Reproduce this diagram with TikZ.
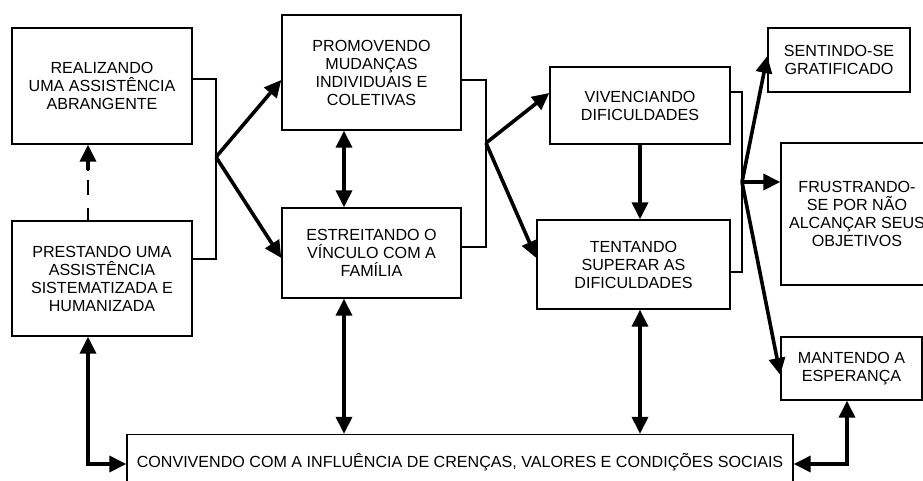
\documentclass[tikz,border=0pt]{standalone}
\usepackage{fontspec}
\setmainfont{Liberation Sans}
\usetikzlibrary{arrows.meta}
\begin{document}
\begin{tikzpicture}[x=1pt,y=-1pt,
  box/.style={draw, line width=1.4pt, inner sep=0pt, align=center,
    font=\fontsize{16.1}{18}\selectfont},
  thin line/.style={line width=1.2pt},
  arr/.style={line width=3.6pt, -{Triangle[length=17pt,width=16pt]}},
  darr/.style={line width=3.6pt, {Triangle[length=17pt,width=16pt]}-{Triangle[length=17pt,width=16pt]}},
  dashline/.style={line width=1.4pt, dash pattern=on 12pt off 13pt on 15pt off 10pt}]
\clip (0,0) rectangle (923,480);
\fill[white] (0,0) rectangle (923,480);

% boxes
\node[box, minimum width=180pt, minimum height=116pt] (R1) at (102,86) {REALIZANDO\\UMA ASSISTÊNCIA\\ABRANGENTE};
\node[box, minimum width=180pt, minimum height=115pt] (R2) at (102,278.5) {PRESTANDO UMA\\ASSISTÊNCIA\\SISTEMATIZADA E\\HUMANIZADA};
\node[box, minimum width=179pt, minimum height=115pt] (P) at (371.5,72.5) {PROMOVENDO\\MUDANÇAS\\INDIVIDUAIS E\\COLETIVAS};
\node[box, minimum width=179pt, minimum height=90pt] (E) at (371.5,253) {ESTREITANDO O\\VÍNCULO COM A\\FAMÍLIA};
\node[box, minimum width=180pt, minimum height=77pt] (V) at (640,105.5) {VIVENCIANDO\\DIFICULDADES};
\node[box, minimum width=193pt, minimum height=89pt] (T) at (633.5,264.5) {TENTANDO\\SUPERAR AS\\DIFICULDADES};
\node[box, minimum width=142pt, minimum height=64pt] (S) at (839,60) {SENTINDO-SE\\GRATIFICADO};
\node[box, minimum width=152pt, minimum height=142pt] (F) at (857,214) {FRUSTRANDO-\\SE POR NÃO\\ALCANÇAR SEUS\\OBJETIVOS};
\node[box, minimum width=141pt, minimum height=63pt] (M) at (851.5,368.5) {MANTENDO A\\ESPERANÇA};
\node[box, minimum width=666pt, minimum height=55pt] (C) at (460,462) {CONVIVENDO COM A INFLUÊNCIA DE CRENÇAS, VALORES E CONDIÇÕES SOCIAIS};

% brackets and hubs
\coordinate (b1t) at (216,79);
\coordinate (b1b) at (216,259);
\coordinate (j1) at (216,157);
\draw[thin line] (b1t -| R1.east) -- (b1t) -- (b1b) -- (b1b -| R2.east);

\coordinate (b2t) at (486,80);
\coordinate (b2b) at (486,247);
\coordinate (j2) at (486,143);
\draw[thin line] (b2t -| P.east) -- (b2t) -- (b2b) -- (b2b -| E.east);

\coordinate (b3t) at (742,92);
\coordinate (b3b) at (742,272);
\coordinate (j3) at (742,182);
\draw[thin line] (b3t -| V.east) -- (b3t) -- (b3b) -- (b3b -| T.east);

% hub arrows
\draw[arr] (j1) -- (P.west |- 0,80);
\draw[arr] (j1) -- (E.west |- 0,258);
\draw[arr] (j2) -- (V.west |- 0,93);
\draw[arr] (j2) -- (T.west |- 0,258);
\draw[arr] (j3) -- (S.west |- 0,56);
\draw[arr] (j3) -- (F.west |- 0,182);
\draw[arr] (j3) -- (M.west |- 0,375);

% vertical arrows
\draw[darr] (P.south -| 344,0) -- (E.north -| 344,0);
\draw[darr] (E.south -| 344,0) -- (C.north -| 344,0);
\draw[arr] (V.south -| 640,0) -- (T.north -| 640,0);
\draw[darr] (T.south -| 640,0) -- (C.north -| 640,0);

% dashed arrow
\coordinate (dstart) at (88,170);
\draw[dashline] (R2.north -| 88,0) -- (dstart);
\draw[arr] (dstart) -- (R1.south -| 88,0);

% elbow double arrows to C
\coordinate (cl) at (88,464);
\coordinate (cr) at (847,464);
\draw[darr] (R2.south -| cl) -- (cl) -- (C.west |- cl);
\draw[darr] (M.south -| cr) -- (cr) -- (C.east |- cr);
\end{tikzpicture}
\end{document}
